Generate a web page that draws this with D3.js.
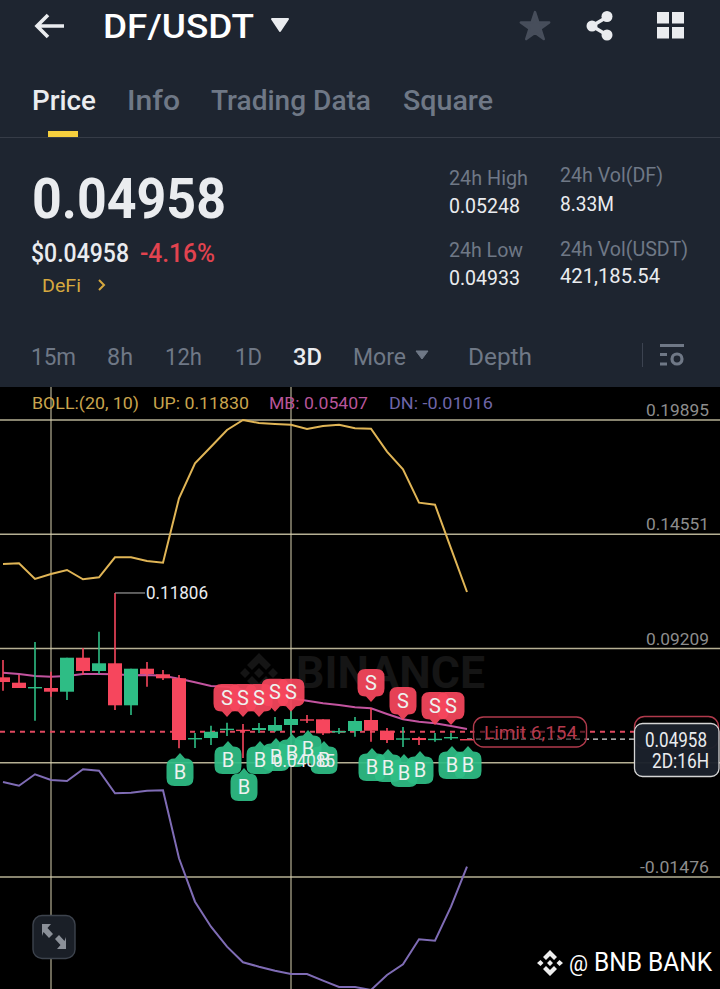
<!DOCTYPE html>
<html><head><meta charset="utf-8">
<script src="https://cdn.jsdelivr.net/npm/d3@7/dist/d3.min.js"></script>
<style>html,body{margin:0;padding:0;background:#000}svg{display:block}text{font-family:Roboto,"Noto Sans",sans-serif}</style>
</head><body><div id="c"></div>
<script>
// ---- data ----
const opens  = [.07862,.07610,.07362,.07362,.07189,.08779,.08158,.08518,.06553,.08265,.08003,.07816,.04962,.05023,.05397,.05412,.05397,.05364,.05632,.05899,.05899,.05289,.05350,.05866,.05364,.04943,.05023,.04943,.05023,.04976];
const closes = [.07642,.07362,.07409,.07189,.08779,.08158,.08518,.06553,.08265,.08017,.07816,.04929,.05023,.05317,.05459,.05350,.05491,.05632,.05913,.05852,.05242,.05350,.05820,.05364,.04929,.05009,.04929,.04990,.05070,.04929];
const highs  = [.08672,.07970,.09514,.08125,.08779,.09233,.09995,.11806,.08265,.08579,.08204,.07970,.05256,.05599,.05740,.05679,.05726,.06006,.06334,.06100,.05899,.05491,.06006,.06427,.05491,.05538,.05084,.05256,.05256,.04976];
const lows   = [.07236,.07362,.05834,.06955,.06801,.07970,.08017,.06334,.06100,.07423,.07736,.04541,.04555,.04696,.05117,.04085,.05256,.05317,.05164,.05726,.05164,.05211,.05084,.04850,.04789,.04602,.04696,.04850,.04929,.04929];
const bollUp = [.13161,.13194,.12460,.12693,.12881,.12445,.12539,.13475,.13475,.13301,.13222,.16234,.17870,.18647,.19427,.19895,.19755,.19708,.19676,.19474,.19615,.19676,.19507,.19488,.18413,.17590,.16028,.15934,.13895,.11852];
const bollMid= [.08078,.08017,.07923,.07890,.07923,.08017,.08017,.08003,.07956,.07970,.07937,.07797,.07628,.07456,.07423,.07269,.07142,.07035,.06881,.06768,.06647,.06567,.06460,.06413,.06147,.05899,.05787,.05712,.05585,.05445];
const bollDn = [.02967,.02794,.03327,.03060,.03013,.03560,.03495,.02438,.02466,.02560,.02578,-.00602,-.02632,-.03800,-.04735,-.05466,-.05671,-.05858,-.06012,-.06012,-.06325,-.06620,-.06620,-.06760,-.06059,-.05559,-.04389,-.04455,-.02865,-.00994];
const gridPrices = [.19895,.14551,.09209,.03866,-.01476];
const gridLabels = ["0.19895","0.14551","0.09209","","-0.01476"];
const gridCandles = [3,18];
const buyIdx  = [11,14,15,16,17,18,19,20,23,24,25,26,28,29];
const buyTip  = [.04323,.04883,.03621,.04883,.05023,.05211,.05397,.04883,.04555,.04508,.04274,.04415,.04649,.04649];
const sellIdx = [14,15,16,17,18,23,25,27,28];
const sellTip = [.06006,.06006,.06006,.06254,.06254,.06708,.05866,.05632,.05632];
const limitPrice = .05317, lastLinePrice = .04976;
const highLabel = "0.11806", lowLabel = "0.04085";

// ---- page ----
const W=720,H=989;
const svg=d3.select("#c").append("svg").attr("width",W).attr("height",H);
const TXT="#eaecef",GREY="#6f7886",GREEN="#2ebd85",RED="#f6465d",BG="#1e2530";
function T(s,x,y,size,fill,weight,width,anchor){
  const t=svg.append("text").attr("x",x).attr("y",y).attr("font-size",size).attr("fill",fill).attr("font-weight",weight||400).text(s);
  if(anchor)t.attr("text-anchor",anchor);
  if(width)t.attr("textLength",width).attr("lengthAdjust","spacingAndGlyphs");
  return t;
}
svg.append("rect").attr("width",W).attr("height",H).attr("fill","#000");
svg.append("rect").attr("width",W).attr("height",387).attr("fill",BG);

// header
svg.append("path").attr("d","M64,26H37M48,15L37,26L48,37").attr("fill","none").attr("stroke",TXT).attr("stroke-width",3.6);
T("DF/USDT",103,38,34,"#fff",500,151);
svg.append("path").attr("d","M272,19H288L280,31Z").attr("fill",TXT).attr("stroke",TXT).attr("stroke-width",2).attr("stroke-linejoin","round");
svg.append("path").attr("transform","translate(535,27)").attr("d",d3.symbol(d3.symbolStar,250)()).attr("fill","#474e5b").attr("stroke","#474e5b").attr("stroke-width",2.5).attr("stroke-linejoin","round");
svg.append("path").attr("d","M607,17L592,26L607,35").attr("fill","none").attr("stroke",TXT).attr("stroke-width",3.5);
[[607,16.5],[592,26],[607,35]].forEach(c=>svg.append("circle").attr("cx",c[0]).attr("cy",c[1]).attr("r",5.5).attr("fill",TXT));
[[657,12],[672,12],[657,27],[672,27]].forEach(c=>svg.append("rect").attr("x",c[0]).attr("y",c[1]).attr("width",12).attr("height",11.5).attr("fill",TXT));

// tabs
T("Price",32,110,27,TXT,500,64);
T("Info",127,110,27,GREY,500,53);
T("Trading Data",211,110,27,GREY,500,160);
T("Square",403,110,27,GREY,500,90);
svg.append("rect").attr("x",48).attr("y",131).attr("width",30).attr("height",6).attr("fill","#f5cf3e");
svg.append("rect").attr("x",0).attr("y",137).attr("width",720).attr("height",1).attr("fill","#363c47");

// price block
T("0.04958",32,218,56,TXT,700,194);
T("$0.04958",31,262,25,TXT,500,98);
T("-4.16%",140,262,25,"#e2434f",500,75);
T("DeFi",42,292,19,"#d6a93f",400,39);
svg.append("path").attr("d","M99,280L104,285L99,290").attr("fill","none").attr("stroke","#d6a93f").attr("stroke-width",2);
T("24h High",449,185,21,GREY,400,79);
T("0.05248",449,213,20,TXT,400,71);
T("24h Low",449,257,21,GREY,400,74);
T("0.04933",449,285,20,TXT,400,71);
T("24h Vol(DF)",560,182,21,GREY,400,103);
T("8.33M",560,211,20,TXT,400,54);
T("24h Vol(USDT)",560,256,21,GREY,400,128);
T("421,185.54",560,283,20,TXT,400,100);

// timeframes
[["15m",31,45],["8h",107,26],["12h",165,37],["1D",235,27],["More",353,53],["Depth",468,64]].forEach(d=>T(d[0],d[1],365,24,GREY,400,d[2]));
T("3D",293,365,24,TXT,500,29);
svg.append("path").attr("d","M416,351H428L422,359Z").attr("fill",GREY).attr("stroke",GREY).attr("stroke-linejoin","round");
svg.append("rect").attr("x",642).attr("y",343).attr("width",1).attr("height",24).attr("fill","#3c4350");
svg.append("path").attr("d","M660,345.5H684M660,354.5H667M660,364H667").attr("stroke",GREY).attr("stroke-width",3).attr("fill","none");
svg.append("circle").attr("cx",677).attr("cy",359).attr("r",5).attr("fill","none").attr("stroke",GREY).attr("stroke-width",3.2);

// ---- chart ----
const x=d3.scaleLinear().domain([0,29]).range([3,467]);
const y=d3.scaleLinear().domain([gridPrices[0],gridPrices[4]]).range([420,877]);
const g=svg.append("g");
const GRID="#d6cfae";

// grid
g.selectAll(".gh").data(gridPrices).join("line").attr("x1",0).attr("x2",W).attr("y1",d=>y(d)).attr("y2",d=>y(d)).attr("stroke",GRID).attr("stroke-opacity",.85).attr("stroke-width",1.4);
g.selectAll(".gv").data(gridCandles).join("line").attr("x1",d=>x(d)).attr("x2",d=>x(d)).attr("y1",387).attr("y2",H).attr("stroke",GRID).attr("stroke-opacity",.85).attr("stroke-width",1.2);

// legend
T("BOLL:(20, 10)",32,409,17,"#c9a54e",400,107);
T("UP: 0.11830",153,409,17,"#c9a54e",400,96);
T("MB: 0.05407",269,409,17,"#b8559a",400,99);
T("DN: -0.01016",389,409,17,"#6f66a8",400,104);

// axis labels
g.selectAll(".gl").data(gridPrices).join("text").attr("x",d=>d<0?640:646).attr("y",d=>y(d)-4).attr("font-size",17).attr("fill","#8d8d8d")
 .attr("textLength",d=>d<0?69:63).attr("lengthAdjust","spacingAndGlyphs").text((d,i)=>gridLabels[i]);

// watermark
g.append("path").attr("transform","translate(259,673)").attr("d","M0,-20L12,-8L7,-3L0,-10L-7,-3L-12,-8ZM0,20L12,8L7,3L0,10L-7,3L-12,8ZM-14,-5L-19,0L-14,5L-9,0ZM14,-5L19,0L14,5L9,0ZM0,-5L-5,0L0,5L5,0Z").attr("fill","#151515");
g.append("text").attr("x",296).attr("y",688).attr("font-size",44).attr("font-weight",700).attr("fill","#151515").attr("textLength",189).attr("lengthAdjust","spacingAndGlyphs").text("BINANCE");

// price lines
const LIMIT="#b03a4c";
g.append("line").attr("x1",0).attr("x2",634).attr("y1",y(limitPrice)).attr("y2",y(limitPrice)).attr("stroke","#e0485f").attr("stroke-width",2).attr("stroke-dasharray","5 5");
g.append("line").attr("x1",x(29)).attr("x2",634).attr("y1",y(lastLinePrice)).attr("y2",y(lastLinePrice)).attr("stroke","#ddd").attr("stroke-width",1.2).attr("stroke-dasharray","5 4");

// bollinger
const line=d3.line().x((d,i)=>x(i)).y(d=>y(d));
[[bollUp,"#e0b556"],[bollDn,"#7f6cb5"],[bollMid,"#c2549f"]].forEach(s=>g.append("path").datum(s[0]).attr("d",line).attr("fill","none").attr("stroke",s[1]).attr("stroke-width",2));

// candles
const idx=d3.range(opens.length);
const col=i=>closes[i]>=opens[i]?GREEN:RED;
g.selectAll(".w").data(idx).join("line").attr("x1",x).attr("x2",x).attr("y1",i=>y(highs[i])).attr("y2",i=>y(lows[i])).attr("stroke",col).attr("stroke-width",1.6);
g.selectAll(".b").data(idx).join("rect").attr("x",i=>x(i)-7).attr("width",14)
 .attr("y",i=>y(Math.max(opens[i],closes[i]))).attr("height",i=>Math.max(1.4,Math.abs(y(opens[i])-y(closes[i])))).attr("fill",col);

// high / low labels
const hi=d3.max(highs),hiI=highs.indexOf(hi);
g.append("path").attr("d",`M${x(hiI)},${y(hi)}H${x(hiI)+30}`).attr("stroke","#999").attr("stroke-width",1.2);
g.append("text").attr("x",x(hiI)+31).attr("y",y(hi)+6.5).attr("font-size",18).attr("fill",TXT).attr("textLength",62).attr("lengthAdjust","spacingAndGlyphs").text(highLabel);

// badges
function badge(cx,tip,dir,color,label){
  const w=27,h=27.5,r=8,t=5.5;               // dir: 1 = tip on top (buy), -1 = tip at bottom (sell)
  const top=dir>0?tip+t:tip-t-h, bot=top+h, L=cx-w/2, R=cx+w/2;
  let p=`M${L+r},${top}`;
  if(dir>0)p+=`L${cx-5},${top}L${cx},${tip}L${cx+5},${top}`;
  p+=`L${R-r},${top}Q${R},${top} ${R},${top+r}L${R},${bot-r}Q${R},${bot} ${R-r},${bot}`;
  if(dir<0)p+=`L${cx+5},${bot}L${cx},${tip}L${cx-5},${bot}`;
  p+=`L${L+r},${bot}Q${L},${bot} ${L},${bot-r}L${L},${top+r}Q${L},${top} ${L+r},${top}Z`;
  g.append("path").attr("d",p).attr("fill",color).attr("fill-opacity",.93);
  return {cx,cy:(top+bot)/2,label};
}
const labels=[];
buyIdx.forEach((i,k)=>labels.push(badge(x(i)+1,y(buyTip[k]),1,GREEN,"B")));
sellIdx.forEach((i,k)=>labels.push(badge(x(i),y(sellTip[k]),-1,RED,"S")));
g.selectAll(".bl").data(labels).join("text").attr("x",d=>d.cx).attr("y",d=>d.cy+7).attr("text-anchor","middle").attr("font-size",20).attr("fill","#eef2ef").text(d=>d.label);
g.append("text").attr("x",273).attr("y",y(d3.min(lows))+9).attr("font-size",18).attr("fill",TXT).attr("textLength",62).attr("lengthAdjust","spacingAndGlyphs").text(lowLabel);

// limit label
g.append("rect").attr("x",473.5).attr("y",717).attr("width",113).attr("height",30).attr("rx",10).attr("fill","#000").attr("fill-opacity",.55).attr("stroke",LIMIT).attr("stroke-width",1.4);
g.append("text").attr("x",484).attr("y",739).attr("font-size",18).attr("fill","#b53a4d").attr("textLength",93).attr("lengthAdjust","spacingAndGlyphs").text("Limit  6,154");
g.append("rect").attr("x",634.5).attr("y",716.5).attr("width",84).attr("height",32).attr("rx",10).attr("fill","#000").attr("stroke",LIMIT).attr("stroke-width",1.4);

// price box
g.append("rect").attr("x",634.5).attr("y",723.5).attr("width",84.5).attr("height",53).attr("rx",8).attr("fill","#1b212b").attr("fill-opacity",.97).attr("stroke","#d5d5d5").attr("stroke-width",1.3);
g.append("text").attr("x",645).attr("y",747).attr("font-size",19.5).attr("fill",TXT).attr("textLength",62).attr("lengthAdjust","spacingAndGlyphs").text("0.04958");
g.append("text").attr("x",652).attr("y",768).attr("font-size",19.5).attr("fill",TXT).attr("textLength",57).attr("lengthAdjust","spacingAndGlyphs").text("2D:16H");

// expand button
svg.append("rect").attr("x",33).attr("y",915.5).attr("width",42).attr("height",43).attr("rx",9).attr("fill","#1a1f27").attr("stroke","#3d434d").attr("stroke-width",1.4);
svg.append("path").attr("d","M42,924H51L47.5,928L53,934L49,938L43.5,932L42,936ZM66,949H57L60.5,945L55,939L59,935L64.500,941L66,937Z").attr("fill","#8b9098");

// credit
svg.append("path").attr("transform","translate(550,963)").attr("d","M0,-13L7,-6L4,-3L0,-7L-4,-3L-7,-6ZM0,13L7,6L4,3L0,7L-4,3L-7,6ZM-9.500,-3L-13,0L-9.500,3L-6.500,0ZM9.500,-3L13,0L9.500,3L6.500,0ZM0,-3L-3,0L0,3L3,0Z").attr("fill","#eee");
T("@",569,971,22,"#fff",400,19);
T("BNB BANK",594,971,26,"#fff",400,118);
</script></body></html>
